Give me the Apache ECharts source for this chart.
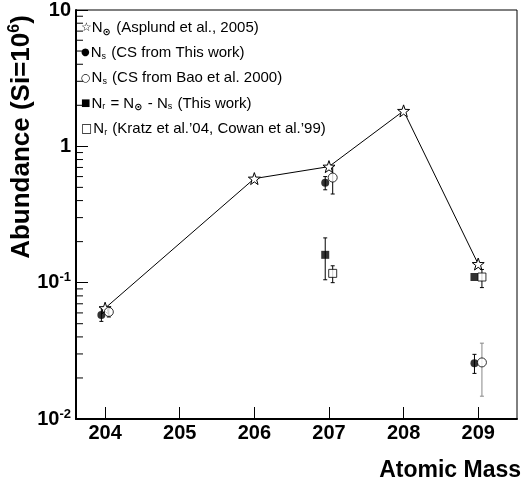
<!DOCTYPE html>
<html><head><meta charset="utf-8">
<script src="https://cdn.jsdelivr.net/npm/echarts@6/dist/echarts.min.js"></script>
<style>html,body{margin:0;padding:0;background:#fff}#c{width:529px;height:488px}</style>
</head><body><div id="c"></div>
<script>
// ---- data ----
var massTicks = [204, 205, 206, 207, 208, 209];
var solarMass = [204, 206, 207, 208, 209];
var solarAbund = [0.065, 0.58, 0.71, 1.82, 0.137];

var nsThisMass = [204, 207, 209];
var nsThisVal = [0.058, 0.54, 0.0256];
var nsThisLo = [0.052, 0.48, 0.0216];
var nsThisHi = [0.066, 0.60, 0.0298];

var nsBaoMass = [204, 207, 209];
var nsBaoVal = [0.061, 0.59, 0.026];
var nsBaoLo = [0.056, 0.447, 0.0147];
var nsBaoHi = [0.066, 0.72, 0.036];

var nrThisMass = [207, 209];
var nrThisVal = [0.160, 0.110];
var nrThisLo = [0.105, 0.110];
var nrThisHi = [0.213, 0.110];

var nrKratzMass = [207, 209];
var nrKratzVal = [0.117, 0.110];
var nrKratzLo = [0.100, 0.092];
var nrKratzHi = [0.133, 0.125];

var legendLines = [
  '{m1|☆}N{sun|⊙} (Asplund et al., 2005)',
  '{m2|●}N{sb|s} (CS from This work)',
  '{m3|○}N{sb|s} (CS from Bao et al. 2000)',
  '{m4|■}N{sb|r} = N{sun|⊙} - N{sb|s} (This work)',
  '{m5|□}N{sb|r} (Kratz et al.\u201904, Cowan et al.\u201999)'
];
var yTitle = 'Abundance (Si=10{s|6})';
var xTitle = 'Atomic Mass';

// ---- helpers ----
var SHIFT = 0.05;
function pts(m, v, dx) { return m.map(function (x, i) { return [x + dx, v[i]]; }); }
function errs(m, lo, hi, dx) { return m.map(function (x, i) { return [x + dx, lo[i], hi[i]]; }); }
var minorVals = [];
[0.01, 0.1, 1].forEach(function (d) { for (var k = 2; k <= 9; k++) minorVals.push([203.61, +(d * k).toPrecision(3)]); });

var STAR = 'path://M0,-10 L2.35,-3.24 L9.51,-3.09 L3.8,1.24 L5.88,8.09 L0,4 L-5.88,8.09 L-3.8,1.24 L-9.51,-3.09 L-2.35,-3.24 Z';

function errSeries(data, colors) {
  return {
    type: 'custom', data: data, encode: { x: 0, y: [1, 2] }, z: 3, silent: true,
    renderItem: function (params, api) {
      var p1 = api.coord([api.value(0), api.value(1)]);
      var p2 = api.coord([api.value(0), api.value(2)]);
      if (Math.abs(p1[1] - p2[1]) < 1) return null;
      var st = { stroke: colors[params.dataIndex], lineWidth: 1 };
      return { type: 'group', children: [
        { type: 'line', shape: { x1: p1[0], y1: p1[1], x2: p2[0], y2: p2[1] }, style: st },
        { type: 'line', shape: { x1: p1[0] - 2, y1: p1[1], x2: p1[0] + 2, y2: p1[1] }, style: st },
        { type: 'line', shape: { x1: p2[0] - 2, y1: p2[1], x2: p2[0] + 2, y2: p2[1] }, style: st }
      ]};
    }
  };
}

var chart = echarts.init(document.getElementById('c'), null, { renderer: 'canvas' });
var FONT = '"Liberation Sans", Arial, sans-serif';

var legendGraphics = legendLines.map(function (t, i) {
  return {
    type: 'text', left: 81, top: 20 + i * 25.3, z: 10,
    style: {
      text: t, font: '15px ' + FONT, fill: '#000',
      rich: {
        m1: { fontSize: 12, fontFamily: 'DejaVu Sans' },
        m2: { fontSize: 10, fontFamily: 'DejaVu Sans', padding: [0, 1, 0, 2] },
        m3: { fontSize: 11, fontFamily: 'DejaVu Sans', padding: [0, 1, 0, 1] },
        m4: { fontSize: 10, fontFamily: 'DejaVu Sans', padding: [0, 1, 0, 1] },
        m5: { fontSize: 12, fontFamily: 'DejaVu Sans', padding: [0, 1, 0, 0] },
        sun: { fontSize: 10, fontFamily: 'DejaVu Sans', fontWeight: 'bold', padding: [9, 1, 0, 0] },
        sb: { fontSize: 9, fontFamily: FONT, padding: [7, 1, 0, 0] }
      }
    }
  };
});

chart.setOption({
  animation: false,
  grid: { left: 76, right: 12, top: 8, bottom: 69, show: true, borderColor: '#000', borderWidth: 1, containLabel: false },
  xAxis: {
    type: 'value', min: 203.61, max: 209.52,
    axisLine: { lineStyle: { color: '#000', width: 2 } },
    axisTick: { inside: true, length: 12, lineStyle: { color: '#000', width: 1 }, customValues: massTicks },
    axisLabel: { customValues: massTicks, color: '#000', fontWeight: 'bold', fontSize: 20, fontFamily: FONT, margin: 4 },
    splitLine: { show: false }
  },
  yAxis: {
    type: 'log', logBase: 10, min: 0.01, max: 10, interval: 1,
    axisLine: { lineStyle: { color: '#000', width: 2 } },
    axisTick: { inside: true, length: 12, lineStyle: { color: '#000', width: 1 } },
    splitLine: { show: false },
    axisLabel: {
      showMinLabel: true, showMaxLabel: true, margin: 5,
      color: '#000', fontWeight: 'bold', fontSize: 20, fontFamily: FONT,
      formatter: function (v) {
        var e = Math.round(Math.log10(v));
        if (e === 1) return '10';
        if (e === 0) return '1';
        return '10{s|' + e + '}';
      },
      rich: { s: { fontSize: 13, fontWeight: 'bold', fontFamily: FONT, padding: [0, 0, 10, 0] } }
    }
  },
  graphic: legendGraphics.concat([
    { type: 'text', x: 22, y: 137, rotation: Math.PI / 2, z: 10,
      style: { text: yTitle, font: 'bold 26px ' + FONT, fill: '#000', align: 'center', verticalAlign: 'middle',
        rich: { s: { fontSize: 16, fontWeight: 'bold', fontFamily: FONT, padding: [0, 0, 14, 0] } } } },
    { type: 'text', right: 8, top: 459, z: 10,
      style: { text: xTitle, font: 'bold 23px ' + FONT, fill: '#000' } }
  ]),
  series: [
    { // minor ticks on log axis
      type: 'custom', data: minorVals, silent: true, z: 2,
      renderItem: function (params, api) {
        var p = api.coord([api.value(0), api.value(1)]);
        var x0 = params.coordSys.x;
        return { type: 'line', shape: { x1: x0, y1: p[1], x2: x0 + 7, y2: p[1] }, style: { stroke: '#000', lineWidth: 1 } };
      }
    },
    {
      type: 'line', data: pts(solarMass, solarAbund, 0), symbol: STAR, symbolSize: 12,
      lineStyle: { color: '#000', width: 1 }, itemStyle: { color: '#fff', borderColor: '#000', borderWidth: 1 }, z: 5
    },
    errSeries(errs(nsThisMass, nsThisLo, nsThisHi, -SHIFT), ['#000', '#000', '#000']),
    errSeries(errs(nsBaoMass, nsBaoLo, nsBaoHi, SHIFT), ['#000', '#000', '#888']),
    errSeries(errs(nrThisMass, nrThisLo, nrThisHi, -SHIFT), ['#000', '#000']),
    errSeries(errs(nrKratzMass, nrKratzLo, nrKratzHi, SHIFT), ['#000', '#000']),
    { type: 'scatter', data: pts(nsThisMass, nsThisVal, -SHIFT), symbol: 'circle', symbolSize: 8, itemStyle: { color: '#000' }, z: 6 },
    { type: 'scatter', data: pts(nsBaoMass, nsBaoVal, SHIFT), symbol: 'circle', symbolSize: 9, itemStyle: { color: '#fff', borderColor: '#000', borderWidth: 1 }, z: 6 },
    { type: 'scatter', data: pts(nrThisMass, nrThisVal, -SHIFT), symbol: 'rect', symbolSize: 8, itemStyle: { color: '#000' }, z: 6 },
    { type: 'scatter', data: pts(nrKratzMass, nrKratzVal, SHIFT), symbol: 'rect', symbolSize: 8, itemStyle: { color: '#fff', borderColor: '#000', borderWidth: 1 }, z: 6 }
  ]
});
</script></body></html>
